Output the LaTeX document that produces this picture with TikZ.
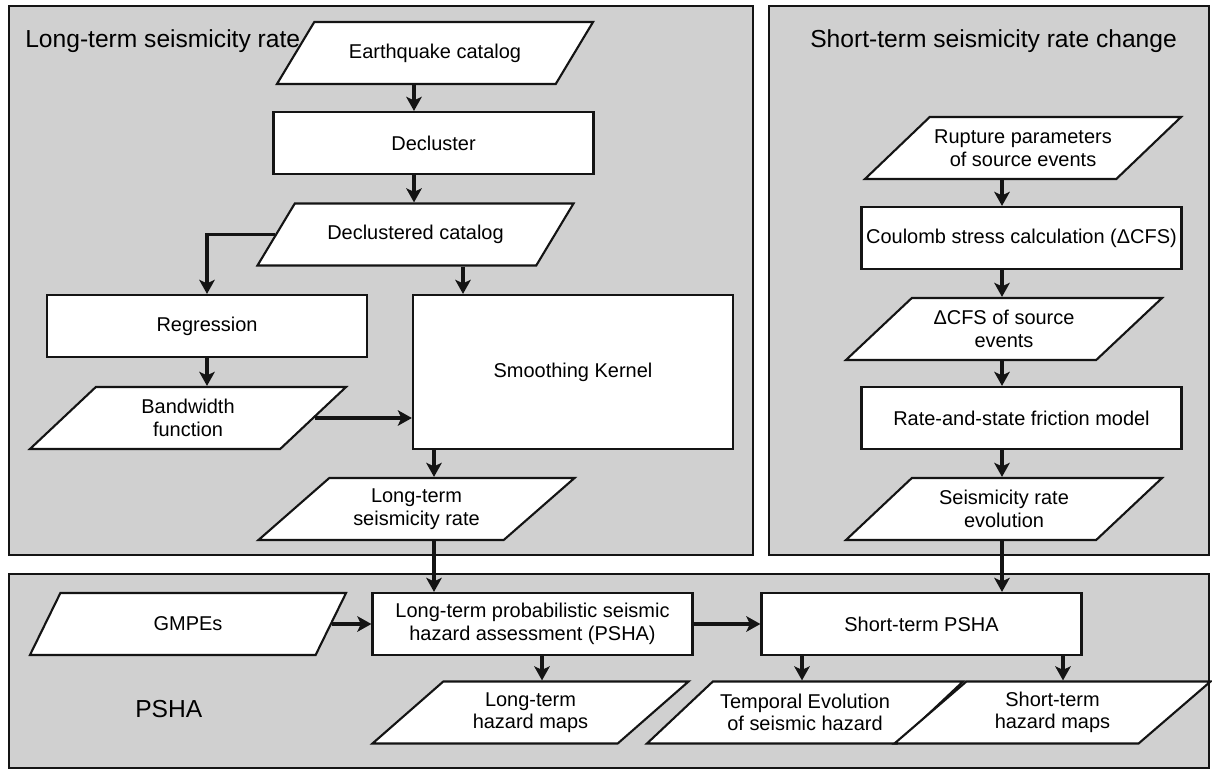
\documentclass[tikz,border=0pt]{standalone}
\usepackage{fontspec}
\setmainfont{Liberation Sans}
\usepackage{xcolor}
\usetikzlibrary{arrows.meta,positioning,shapes.geometric}
\definecolor{panelgray}{RGB}{208,208,208}
\definecolor{inkblack}{RGB}{20,20,20}

\begin{document}
\begin{tikzpicture}[
  x=0.025cm, y=-0.025cm,
  panelbox/.style={draw=inkblack, line width=1.3pt, fill=panelgray},
  paneltitle/.style={anchor=base west, inner sep=0pt, font=\fontsize{17.5}{20}\selectfont},
  box/.style={draw=inkblack, fill=white, line width=1.5pt, align=center, minimum width=8cm, minimum height=1.55cm, inner sep=2pt, font=\fontsize{14.2}{16}\selectfont},
  databox/.style={trapezium, trapezium left angle=33, trapezium right angle=147, trapezium stretches body, draw=inkblack, fill=white, line width=1.5pt, align=center, minimum width=7.9cm, minimum height=1.55cm, inner xsep=-0.75cm, inner ysep=2pt, font=\fontsize{14.2}{16}\selectfont},
  arr/.style={-{Stealth[length=10pt, width=11pt, inset=2.5pt]}, line width=2.6pt, draw=inkblack},
]
\fill[white] (0,0) rectangle (1212,769);
\useasboundingbox (0,0) rectangle (1212,769);

\draw[panelbox] (9,6) rectangle (753,555);
\draw[panelbox] (769,6) rectangle (1209,555);
\draw[panelbox] (9,574) rectangle (1209,768);

\node[paneltitle] (lttitle) at (25,48) {Long-term seismicity rate};
\node[paneltitle] (sttitle) at (810,48) {Short-term seismicity rate change};
\node[paneltitle] (pshatitle) at (135,717) {PSHA};

\node[databox] (eqcat) at (435,53) {Earthquake catalog};
\node[box] (declus) at (433.5,143) {Decluster};
\node[databox] (dcat) at (415.5,234.5) {Declustered catalog};
\node[box] (regr) at (207,326) {Regression};
\node[box, minimum height=3.85cm] (smooth) at (573,372) {Smoothing Kernel};
\node[databox] (bw) at (188,418) {Bandwidth\\function};
\node[databox] (ltrate) at (416.5,509) {Long-term\\seismicity rate};

\node[databox] (rupt) at (1023,148) {Rupture parameters\\of source events};
\node[box] (coul) at (1021.5,238) {Coulomb stress calculation (ΔCFS)};
\node[databox] (dcfs) at (1004,329) {ΔCFS of source\\events};
\node[box] (rsf) at (1021.5,418) {Rate-and-state friction model};
\node[databox] (srevo) at (1004,509) {Seismicity rate\\evolution};

\node[databox] (gmpe) at (188,624) {GMPEs};
\node[box] (ltpsha) at (532.5,624) {Long-term probabilistic seismic\\hazard assessment (PSHA)};
\node[box] (stpsha) at (921.5,624) {Short-term PSHA};
\node[databox] (lthaz) at (530.5,712.5) {Long-term\\hazard maps};
\node[databox] (temp) at (805,712.5) {Temporal Evolution\\of seismic hazard};
\node[databox] (sthaz) at (1052.5,712.5) {Short-term\\hazard maps};

\coordinate (colA) at (414,0);
\coordinate (colB) at (463,0);
\coordinate (colC) at (434,0);
\coordinate (colD) at (1002,0);
\coordinate (colE) at (542,0);
\coordinate (colF) at (802,0);
\coordinate (colG) at (1063,0);

\draw[arr] (eqcat.south -| colA) -- (declus.north -| colA);
\draw[arr] (declus.south -| colA) -- (dcat.north -| colA);
\draw[arr] (dcat.west) -| (regr.north);
\draw[arr] (dcat.south -| colB) -- (smooth.north -| colB);
\draw[arr] (regr.south) -- (bw.north -| regr.south);
\draw[arr] (bw.east) -- (smooth.west |- bw.east);
\draw[arr] (smooth.south -| colC) -- (ltrate.north -| colC);
\draw[arr] (ltrate.south -| colC) -- (ltpsha.north -| colC);

\draw[arr] (rupt.south -| colD) -- (coul.north -| colD);
\draw[arr] (coul.south -| colD) -- (dcfs.north -| colD);
\draw[arr] (dcfs.south -| colD) -- (rsf.north -| colD);
\draw[arr] (rsf.south -| colD) -- (srevo.north -| colD);
\draw[arr] (srevo.south -| colD) -- (stpsha.north -| colD);

\draw[arr] (gmpe.east) -- (ltpsha.west |- gmpe.east);
\draw[arr] (ltpsha.east) -- (stpsha.west);
\draw[arr] (ltpsha.south -| colE) -- (lthaz.north -| colE);
\draw[arr] (stpsha.south -| colF) -- (temp.north -| colF);
\draw[arr] (stpsha.south -| colG) -- (sthaz.north -| colG);
\end{tikzpicture}
\end{document}
